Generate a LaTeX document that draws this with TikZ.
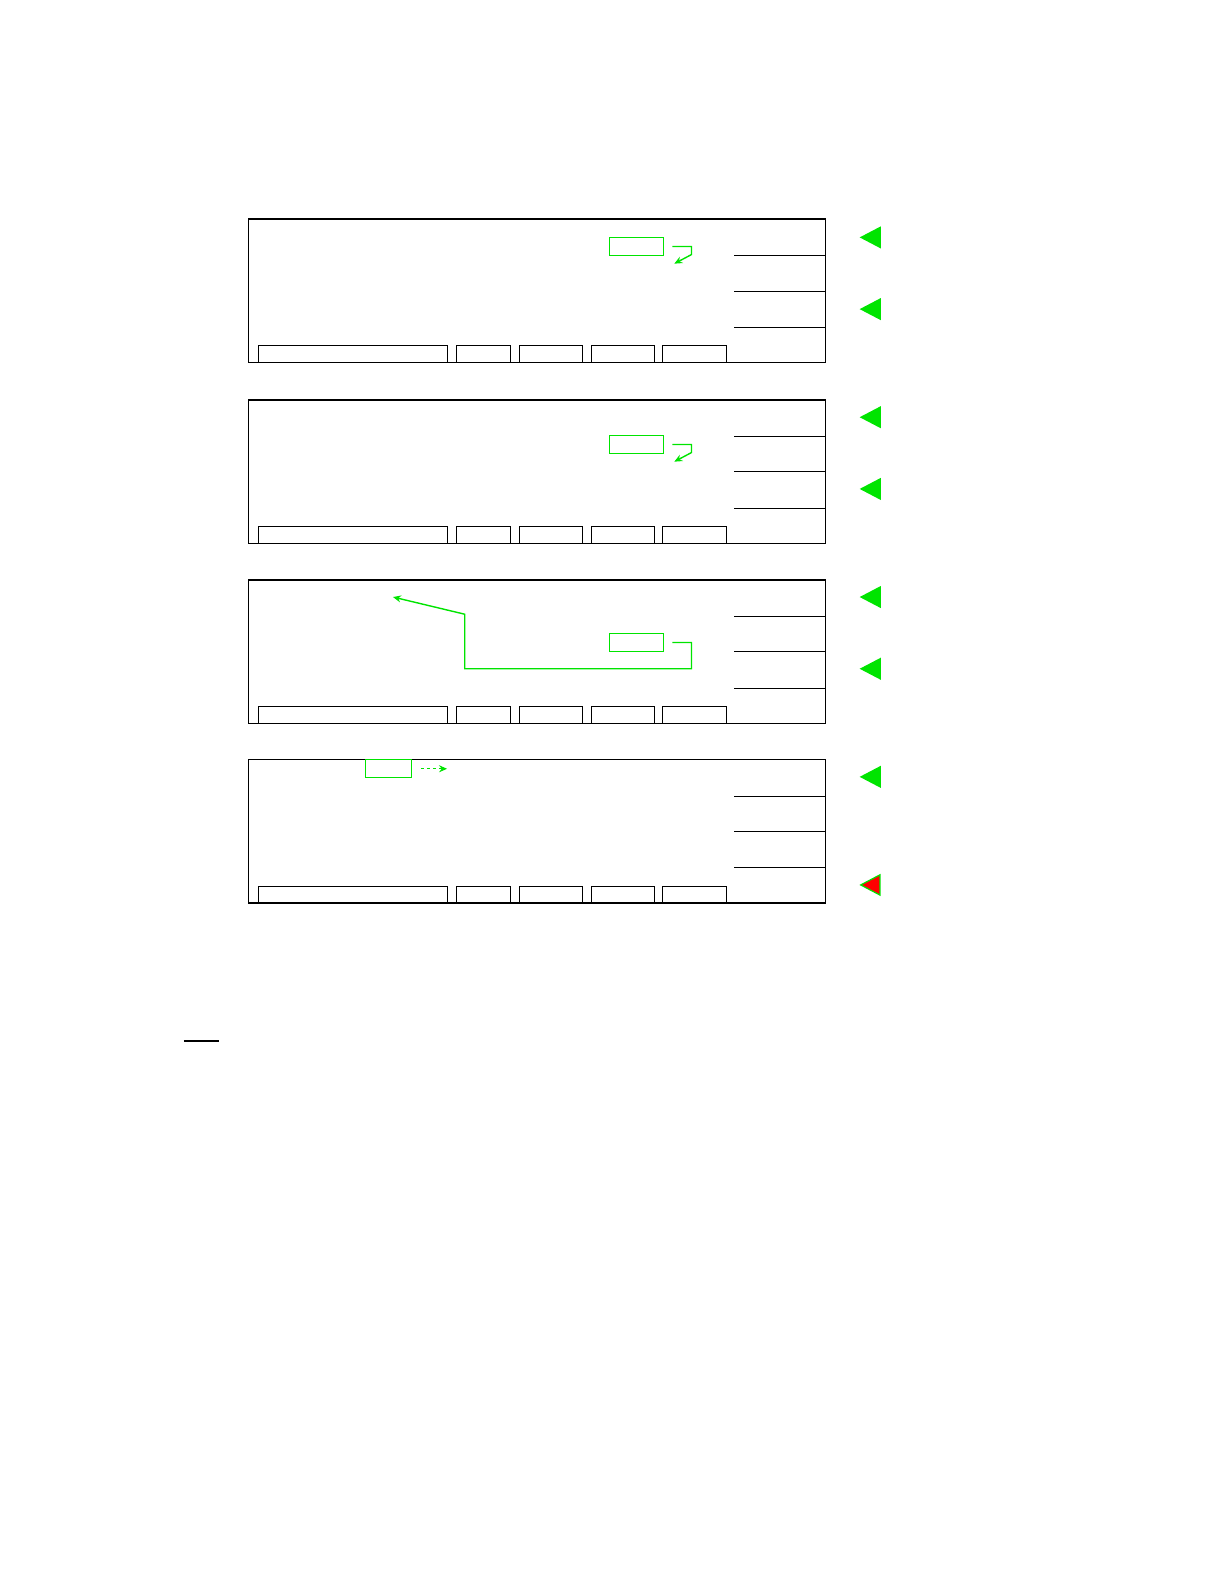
\documentclass[tikz,border=0pt]{standalone}
\usepackage{xcolor}
\usetikzlibrary{arrows.meta}
\definecolor{lcdgreen}{RGB}{0,228,0}

\begin{document}
\begin{tikzpicture}[x=1.01pt,y=-1.01pt,
	selbox/.style={draw=lcdgreen, line width=1.2pt, minimum width=54.5pt, minimum height=18.2pt, inner sep=0pt},
	moveline/.style={draw=lcdgreen, line width=1.4pt, -{Stealth[length=8pt,width=7pt]}}]
			\useasboundingbox (0,0) rectangle (1212,1568);

			% Four screens, one below the other
			\foreach \t in {217,396,574,752} {
				\draw[line width=1.5pt] (246,\t) rectangle (817,\t+142);
				% softkey separators on the right
				\foreach \d in {36,71,107}
				\draw[line width=0.8pt] (727,\t+\d) -- (817,\t+\d);
				% fields along the bottom
				\foreach \a/\b in {256/443,452/505,514/577,585/648,656/719}
				\draw[line width=0.8pt] (\a,\t+125) rectangle (\b,\t+142);
			}

			% Selection boxes
			\node[selbox] (sel1) at (630,244) {};
			\node[selbox] (sel2) at (630,440) {};
			\node[selbox] (sel3) at (630,636) {};
			\node[selbox, minimum width=45.5pt] (sel4) at (384.5,761) {};

			% Cursor moves
			\draw[moveline] ([xshift=8pt]sel1.east) -- ++(19,0) -- ++(0,8) -- ++(-17,9);
			\draw[moveline] ([xshift=8pt]sel2.east) -- ++(19,0) -- ++(0,8) -- ++(-17,9);
			\coordinate (back3) at (389,591);
			\draw[moveline] ([xshift=8pt]sel3.east) -- ++(19,0) |- (460,662) -- (460,608) -- (back3);
			\draw[moveline, dashed, line width=1.1pt] ([xshift=9pt]sel4.east) -- ++(26,0);

			% Keys pressed
			\foreach \y in {235,306,413,484,591,662,769}
			\fill[lcdgreen] (851,\y) -- (872,\y-11) -- (872,\y+11) -- cycle;
			\filldraw[fill=red, draw=lcdgreen, line width=1.2pt] (852,876) -- (871,866) -- (871,886) -- cycle;

			% Mark at the bottom left
			\draw[line width=2pt] (182,1030) -- (217,1030);
\end{tikzpicture}
\end{document}
